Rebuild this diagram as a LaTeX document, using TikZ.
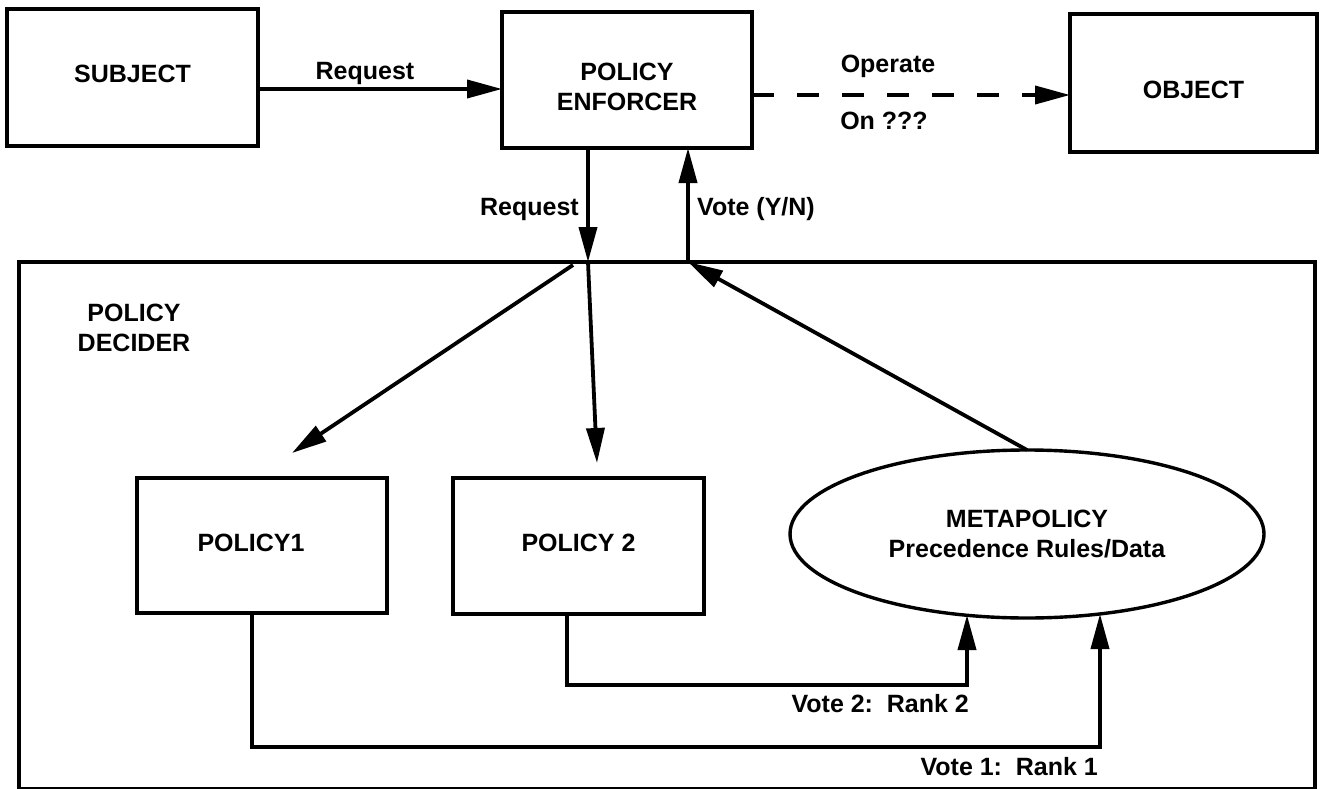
\documentclass[tikz,border=0pt]{standalone}
\usepackage{fontspec}
\setmainfont{Liberation Sans}
\usetikzlibrary{arrows.meta,shapes.geometric}
\newcommand\diafont{\fontsize{25}{30}\selectfont\bfseries}
% invisible rules that nudge a label inside its box
\newcommand\lowerby[1]{\rule{0pt}{\dimexpr 18.5pt+2\dimexpr #1\relax\relax}}
\newcommand\raiseby[1]{\rule[-2\dimexpr #1\relax]{0pt}{2\dimexpr #1\relax}}
\begin{document}
\begin{tikzpicture}[x=1pt,y=-1pt,
  box/.style={draw,line width=3.8pt,inner sep=0pt,outer sep=0pt,align=center,font=\diafont},
  lbl/.style={inner sep=0pt,font=\diafont},
  conn/.style={line width=3.8pt,-{Triangle[length=35pt,width=18pt]}}]
\useasboundingbox (0,0) rectangle (1322,789);

% main blocks
\node[box,minimum width=251pt,minimum height=137pt] (subj) at (132.5,77.5) {\raiseby{3.5pt}SUBJECT};
\node[box,minimum width=250pt,minimum height=136pt] (enf) at (627,80) {\lowerby{6pt}POLICY\\ENFORCER};
\node[box,minimum width=247pt,minimum height=138pt] (obj) at (1193.5,83) {\lowerby{6pt}OBJECT};

% decider frame and its contents
\node[box,minimum width=1296pt,minimum height=527pt] (dec) at (667,525.5) {};
\node[lbl,align=center] (dectitle) at (134,327.75) {POLICY\\DECIDER};
\node[box,minimum width=250pt,minimum height=135pt] (pol1) at (262,545.5) {\raiseby{3pt}POLICY1\kern22pt};
\node[box,minimum width=251pt,minimum height=136pt] (pol2) at (578.5,546) {\raiseby{3pt}POLICY 2};
\node[draw,ellipse,line width=3.4pt,inner sep=0pt,outer sep=0pt,align=center,font=\diafont,
      minimum width=474pt,minimum height=168pt] (meta) at (1027,534)
      {METAPOLICY\\Precedence Rules/Data};

% routing points
\coordinate (rq) at (0,89);
\coordinate (dl) at (0,95);
\coordinate (reqin) at (588,262);
\coordinate (votein) at (688,262);
\coordinate (p1from) at (573,265);
\coordinate (p1tip) at (292,453);
\coordinate (p2tip) at (597,463);
\coordinate (v2a) at (567,685);
\coordinate (v2b) at (967,685);
\coordinate (v2end) at (967,615);
\coordinate (v1a) at (252,747);
\coordinate (v1b) at (1100,747);
\coordinate (v1end) at (1100,614);

% connectors
\draw[conn] (subj.east |- rq) -- (enf.west |- rq);
\draw[conn,dash pattern=on 22pt off 23pt] (enf.east |- dl) -- (obj.west |- dl);
\draw[conn] (reqin |- enf.south) -- (reqin);
\draw[conn] (votein) -- (votein |- enf.south);
\draw[conn] (p1from) -- (p1tip);
\draw[conn] (reqin) -- (p2tip);
\draw[conn] (meta.north) -- (votein);
\draw[conn] (v2a |- pol2.south) -- (v2a) -- (v2b) -- (v2end);
\draw[conn] (v1a |- pol1.south) -- (v1a) -- (v1b) -- (v1end);

% connector labels
\node[lbl,anchor=base] (lreq) at (365,80) {Request};
\node[lbl,anchor=base east] (lreq2) at (579,215) {Request};
\node[lbl,anchor=base west] (lvote) at (697,215) {Vote (Y/N)};
\node[lbl,anchor=base] (lop) at (888,73) {Operate};
\node[lbl,anchor=base] (lon) at (884,130) {On ???};
\node[lbl,anchor=base east] (lv2) at (969,712) {Vote 2:\hspace{0.55em}Rank 2};
\node[lbl,anchor=base east] (lv1) at (1098,775) {Vote 1:\hspace{0.55em}Rank 1};
\end{tikzpicture}
\end{document}
